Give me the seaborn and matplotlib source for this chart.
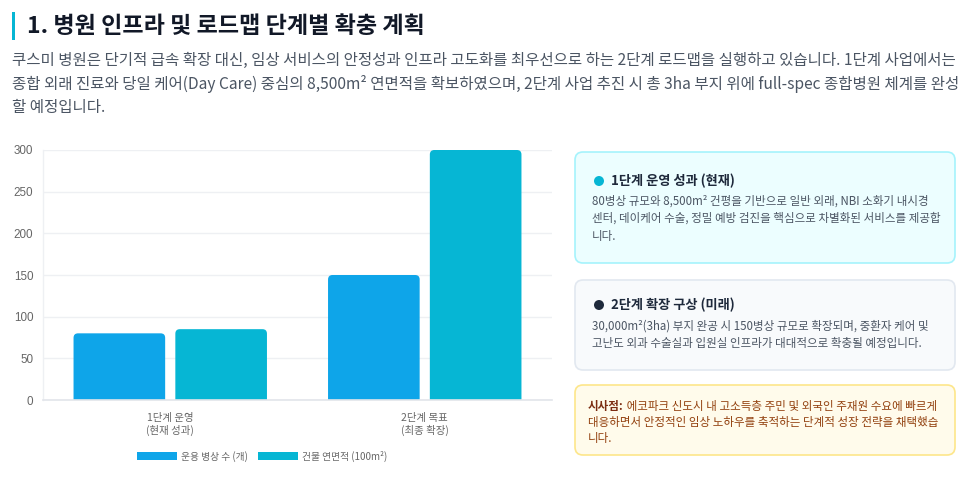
import matplotlib
matplotlib.use("Agg")
import matplotlib.pyplot as plt
import matplotlib.transforms as mtransforms
from matplotlib.patches import FancyBboxPatch, Patch, Circle, Rectangle
import seaborn as sns
import pandas as pd

# ---- data ----
stages = ["1단계 운영\n(현재 성과)", "2단계 목표\n(최종 확장)"]
series_names = ["운용 병상 수 (개)", "건물 연면적 (100m²)"]
beds = [80, 150]
area = [85, 300]
y_ticks = [0, 50, 100, 150, 200, 250, 300]

title = "1. 병원 인프라 및 로드맵 단계별 확충 계획"
para_lines = [
    "쿠스미 병원은 단기적 급속 확장 대신, 임상 서비스의 안정성과 인프라 고도화를 최우선으로 하는 2단계 로드맵을 실행하고 있습니다. 1단계 사업에서는",
    "종합 외래 진료와 당일 케어(Day Care) 중심의 8,500m² 연면적을 확보하였으며, 2단계 사업 추진 시 총 3ha 부지 위에 full-spec 종합병원 체계를 완성",
    "할 예정입니다.",
]
card1_title = "1단계 운영 성과 (현재)"
card1_lines = [
    "80병상 규모와 8,500m² 건평을 기반으로 일반 외래, NBI 소화기 내시경",
    "센터, 데이케어 수술, 정밀 예방 검진을 핵심으로 차별화된 서비스를 제공합",
    "니다.",
]
card2_title = "2단계 확장 구상 (미래)"
card2_lines = [
    "30,000m²(3ha) 부지 완공 시 150병상 규모로 확장되며, 중환자 케어 및",
    "고난도 외과 수술실과 입원실 인프라가 대대적으로 확충될 예정입니다.",
]
card3_bold = "시사점:"
card3_lines = [
    " 에코파크 신도시 내 고소득층 주민 및 외국인 주재원 수요에 빠르게",
    "대응하면서 안정적인 임상 노하우를 축적하는 단계적 성장 전략을 채택했습",
    "니다.",
]

BLUE = "#0ea5e9"
TEAL = "#06b6d4"

sns.set_theme(style="white")
FONT = ["Noto Sans CJK KR", "DejaVu Sans"]
CHART_FONT = ["Liberation Sans", "Noto Sans CJK KR", "DejaVu Sans"]
plt.rcParams["font.family"] = FONT

W, H = 975, 490
fig = plt.figure(figsize=(W / 100, H / 100), dpi=100)
fig.patch.set_facecolor("white")
px = mtransforms.Affine2D().scale(0.01) + fig.dpi_scale_trans  # pixel coords, origin bottom-left


def T(x, y, s, **kw):
    return fig.text(x, H - y, s, transform=px, **kw)


# ---- header ----
fig.add_artist(Rectangle((12, H - 40), 3, 28, transform=px, color=TEAL, lw=0))
T(27, 26, title, fontsize=16.6, fontweight="bold", color="#111827", va="center")
for i, line in enumerate(para_lines):
    T(12, 60 + i * 23.5, line, fontsize=11.2, color="#4b5563", va="center")

# ---- chart ----
ax = fig.add_axes([43 / W, 1 - 400 / H, 509 / W, 250 / H])
df = pd.DataFrame({
    "stage": stages * 2,
    "series": [series_names[0]] * 2 + [series_names[1]] * 2,
    "value": beds + area,
})
sns.barplot(data=df, x="stage", y="value", hue="series", palette=[BLUE, TEAL],
            width=0.80, gap=0.1, ax=ax, legend=False, saturation=1)

# rounded tops
r_px = 4.5
x_unit = 254.5
y_unit = 250 / 300
for p in list(ax.patches):
    x0, w, h = p.get_x(), p.get_width(), p.get_height()
    fc = p.get_facecolor()
    p.set_visible(False)
    rs = r_px / x_unit
    fb = FancyBboxPatch((x0, -20), w, h + 20,
                        boxstyle=f"round,pad=0,rounding_size={rs}",
                        mutation_aspect=(r_px / y_unit) / rs,
                        facecolor=fc, edgecolor="none", clip_on=True, zorder=2)
    ax.add_patch(fb)

ax.set_ylim(0, 300)
ax.set_xlim(-0.5, 1.5)
ax.set_yticks(y_ticks)
ax.set_xlabel("")
ax.set_ylabel("")
ax.grid(axis="y", color="#eef0f3", lw=1, zorder=0)
ax.set_axisbelow(True)
for s in ["top", "right"]:
    ax.spines[s].set_visible(False)
ax.spines["left"].set_color("#eef0f3")
ax.spines["left"].set_linewidth(1)
ax.spines["bottom"].set_color("#e2e5ea")
ax.spines["bottom"].set_linewidth(1.2)
ax.tick_params(axis="y", length=5.5, width=1, color="#eef0f3", pad=1.5,
               labelsize=8.4, labelcolor="#666666")
ax.tick_params(axis="x", length=0, pad=9, labelsize=7.5, labelcolor="#666666")
for lbl in ax.get_yticklabels():
    lbl.set_family(CHART_FONT)
for lbl in ax.get_xticklabels():
    lbl.set_linespacing(1.3)

handles = [Patch(facecolor=BLUE, edgecolor="none"), Patch(facecolor=TEAL, edgecolor="none")]
fig.legend(handles, series_names, loc="center", bbox_to_anchor=(262 / W, 1 - 456 / H),
           ncol=2, frameon=False, prop={"size": 7, "family": FONT}, labelcolor="#666666",
           handlelength=4.1, handleheight=0.95, handletextpad=0.45, columnspacing=1.0)

# ---- cards ----
def card(x0, y0, x1, y1, fc, ec):
    fig.add_artist(FancyBboxPatch((x0, H - y1), x1 - x0, y1 - y0, transform=px,
                                  boxstyle="round,pad=0,rounding_size=8",
                                  facecolor=fc, edgecolor=ec, lw=1.2))

card(575, 152, 955, 263, "#ecfeff", "#a5f3fc")
fig.add_artist(Circle((599, H - 181), 5, transform=px, color=TEAL, lw=0))
T(611, 181, card1_title, fontsize=9.5, fontweight="bold", color="#1e293b", va="center")
for i, line in enumerate(card1_lines):
    T(592, 201 + i * 17.5, line, fontsize=8.3, color="#4b5563", va="center")

card(575, 280, 955, 370, "#f8fafc", "#e2e8f0")
fig.add_artist(Circle((599, H - 305), 5, transform=px, color="#1e293b", lw=0))
T(611, 305, card2_title, fontsize=9.5, fontweight="bold", color="#1e293b", va="center")
for i, line in enumerate(card2_lines):
    T(592, 326 + i * 17.5, line, fontsize=8.3, color="#4b5563", va="center")

card(575, 385, 955, 455, "#fffbeb", "#fde68a")
tb = T(588, 406, card3_bold, fontsize=8.3, fontweight="bold", color="#7c2d12", va="center")
fig.canvas.draw()
ext = tb.get_window_extent(renderer=fig.canvas.get_renderer())
T(588 + ext.width, 406, card3_lines[0], fontsize=8.3, color="#92400e", va="center")
for i, line in enumerate(card3_lines[1:]):
    T(588, 422 + i * 16, line, fontsize=8.3, color="#92400e", va="center")

fig.savefig("out.png", dpi=100, facecolor="white")
